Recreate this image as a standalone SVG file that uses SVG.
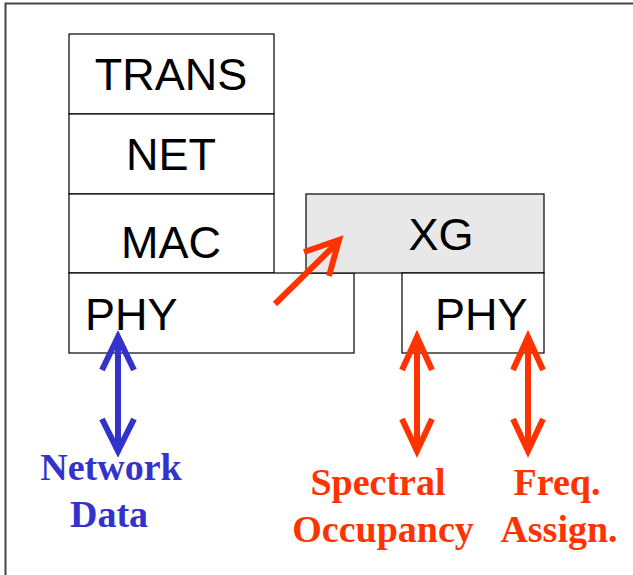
<svg xmlns="http://www.w3.org/2000/svg" width="633" height="575" viewBox="0 0 633 575">
<style>
.box{fill:#fff;stroke:#000;stroke-width:1.2}
.lbl{font-family:"Liberation Sans",Arial,sans-serif;font-size:45px;fill:#000}
.blue{font-family:"Liberation Serif","Times New Roman",serif;font-weight:bold;font-size:38px;fill:#3333cc;text-anchor:middle}
.red{font-family:"Liberation Serif","Times New Roman",serif;font-weight:bold;font-size:38px;fill:#ff3300;text-anchor:middle}
.ab{fill:none;stroke:#3333cc;stroke-width:6}
.ar{fill:none;stroke:#ff3300;stroke-width:6}
</style>
<rect width="633" height="575" fill="#fff"/>
<path d="M5.5,575 V3.5 H633" fill="none" stroke="#444" stroke-width="2"/>
<g id="trans"><rect class="box" x="69" y="34" width="205" height="80"/><text class="lbl" x="171" y="90" text-anchor="middle">TRANS</text></g>
<g id="net"><rect class="box" x="69" y="114" width="205" height="80"/><text class="lbl" x="171" y="170" text-anchor="middle">NET</text></g>
<g id="mac"><rect class="box" x="69" y="194" width="205" height="79"/><text class="lbl" x="171" y="258" text-anchor="middle">MAC</text></g>
<g id="phy-left"><rect class="box" x="69" y="273" width="285" height="80"/><text class="lbl" x="85" y="330">PHY</text></g>
<g id="xg"><rect x="306" y="194" width="238" height="79" fill="#e8e8e8" stroke="#000" stroke-width="1.2"/><text class="lbl" x="441" y="250" text-anchor="middle">XG</text></g>
<g id="phy-right"><rect class="box" x="402" y="273" width="142" height="80"/><text class="lbl" x="435" y="330">PHY</text></g>
<g id="connectors">
<path class="ar" d="M275,304 L338,242 M304,252 L339,240 L329,276" stroke-width="7"/>
<path class="ab" d="M118,336 V451 M102,370 L118,337 L134,370 M102,419 L118,451 L134,419"/>
<path class="ar" d="M417,336 V451 M402,370 L417,337 L432,370 M402,419 L417,451 L432,419"/>
<path class="ar" d="M528,336 V451 M513,370 L528,337 L543,370 M513,419 L528,451 L543,419"/>
</g>
<g id="labels">
<text class="blue" x="111" y="480">Network</text>
<text class="blue" x="109" y="527">Data</text>
<text class="red" x="378" y="495">Spectral</text>
<text class="red" x="383" y="542">Occupancy</text>
<text class="red" x="557" y="495">Freq.</text>
<text class="red" x="559" y="542">Assign.</text>
</g>
</svg>
